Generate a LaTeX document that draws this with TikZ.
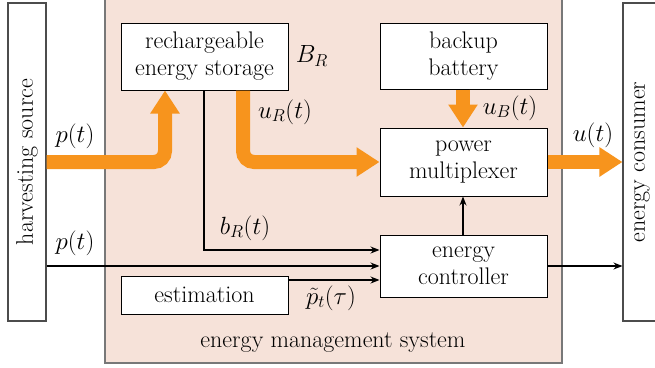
\documentclass[tikz,border=0pt]{standalone}
\usetikzlibrary{arrows.meta,calc}
\definecolor{flow}{RGB}{247,148,29}
\definecolor{emsbg}{RGB}{246,226,217}
\definecolor{emsline}{RGB}{120,120,120}
\begin{document}
\begin{tikzpicture}[x=1pt,y=-1pt,
  font=\fontsize{24}{27}\selectfont,
  box/.style={draw=black,line width=1pt,fill=white,align=center,inner sep=0pt},
  side/.style={draw=black!70,line width=1.1pt,fill=white,inner sep=0pt,minimum width=38pt,minimum height=318pt},
  flowline/.style={draw=flow,line width=14pt,rounded corners=11pt,-{Triangle[width=28pt,length=23pt]}},
  sig/.style={draw=black,line width=1.2pt,-{Stealth[length=9pt,width=7pt]}},
  lbl/.style={inner sep=0pt,font=\fontsize{26}{28}\selectfont}]
\useasboundingbox (0,0) rectangle (655,367);
\clip (0,0) rectangle (655,367);
% EMS background
\path[fill=emsbg,draw=emsline,line width=1.1pt] (105,-5) rectangle (562,363);
\node[inner sep=0pt] (emsl) at (333,343) {energy management system};
% side boxes
\node[side] (hs) at (27,162) {};
\node[inner sep=0pt,rotate=90] (hsl) at (hs.center) {harvesting source};
\node[side] (cons) at (642,162) {};
\node[inner sep=0pt,rotate=90] (consl) at (cons.center) {energy consumer};
% inner boxes
\node[box,minimum width=167pt,minimum height=67pt] (st) at (204.5,56.5) {rechargeable\\energy storage};
\node[box,minimum width=167pt,minimum height=66pt] (bb) at (463.5,56) {backup\\battery};
\node[box,minimum width=167pt,minimum height=68pt] (mux) at (463.5,162) {power\\multiplexer};
\node[box,minimum width=167pt,minimum height=62pt] (ctl) at (463.5,266) {energy\\controller};
\node[box,minimum width=167pt,minimum height=38pt] (est) at (204.5,295) {estimation};
% thick flows
\draw[flowline] (hs.east) -| ([xshift=-39.5pt]st.south);
\draw[flowline] ([xshift=38.5pt]st.south) |- (mux.west);
\draw[flowline] ([xshift=-0.5pt]bb.south) -- ([xshift=-0.5pt]mux.north);
\draw[flowline] (mux.east) -- (cons.west |- mux.east);
% signals
\draw[sig] ([xshift=-0.5pt]st.south) |- ([yshift=16pt]ctl.west);
\draw[sig] (hs.east |- ctl.west) -- (ctl.west);
\draw[sig] ([yshift=15pt]est.east) -- ([yshift=-14pt]ctl.west);
\draw[sig] ([xshift=-0.5pt]ctl.north) -- ([xshift=-0.5pt]mux.south);
\draw[sig] (ctl.east) -- (cons.west |- ctl.east);
% labels
\node[lbl] (lp1) at (75,136) {$p(t)$};
\node[lbl] (lbr) at (312,56) {$B_R$};
\node[lbl] (lur) at (285,112) {$u_R(t)$};
\node[lbl] (lub) at (510,108) {$u_B(t)$};
\node[lbl] (lu) at (593,135) {$u(t)$};
\node[lbl] (lbrt) at (245,228) {$b_R(t)$};
\node[lbl] (lp2) at (75,243) {$p(t)$};
\node[lbl] (lpt) at (331,298) {$\tilde{p}_t(\tau)$};
\end{tikzpicture}
\end{document}
